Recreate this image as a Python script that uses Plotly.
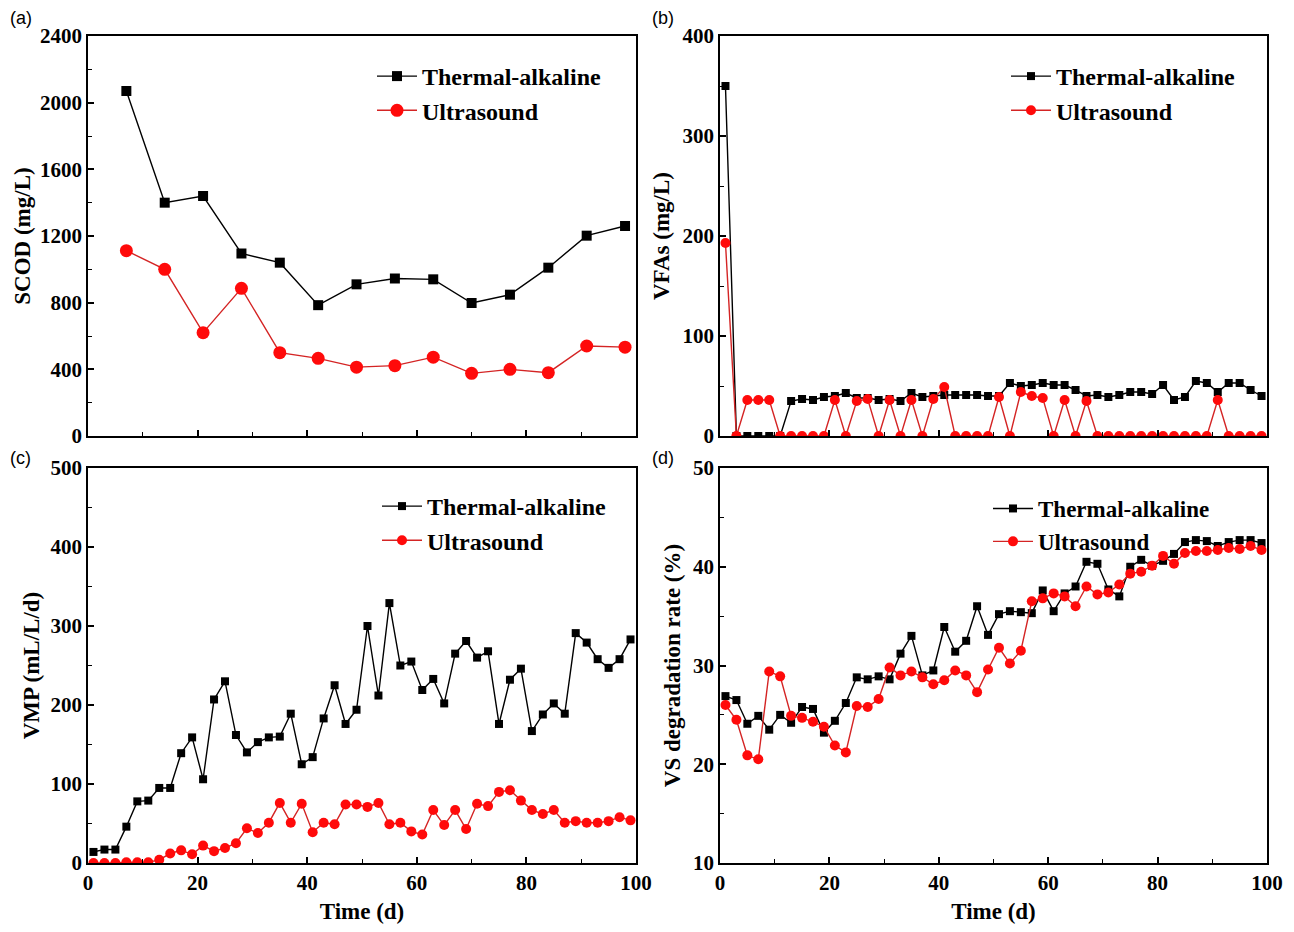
import plotly.graph_objects as go

# ---------------- data ----------------
scod_days = [7, 14, 21, 28, 35, 42, 49, 56, 63, 70, 77, 84, 91, 98]
scod_thermal = [2070, 1400, 1440, 1095, 1040, 785, 910, 945, 940, 798, 848, 1010, 1202, 1260]
scod_ultra = [1112, 1000, 620, 886, 500, 466, 413, 422, 473, 376, 400, 380, 540, 533]

days = list(range(1, 100, 2))
vfa_thermal = [350, 0, 0, 0, 0, 0, 35, 37, 36, 39,
               40, 43, 38, 38, 36, 37, 35, 43, 39, 40,
               41, 41, 41, 41, 40, 40, 53, 50, 51, 53,
               51, 51, 46, 40, 41, 39, 41, 44, 44, 42,
               51, 36, 39, 55, 53, 44, 53, 53, 46, 40]
vfa_ultra = [193, 0, 36, 36, 36, 0, 0, 0, 0, 0,
             36, 0, 35, 37, 0, 36, 0, 36, 0, 37,
             49, 0, 0, 0, 0, 39, 0, 44, 40, 38,
             0, 36, 0, 35, 0, 0, 0, 0, 0, 0,
             0, 0, 0, 0, 0, 36, 0, 0, 0, 0]

vmp_thermal = [14, 17, 17, 46, 78, 79, 95, 95, 139, 159,
               106, 207, 230, 162, 140, 153, 159, 160, 189, 125,
               134, 183, 225, 176, 194, 300, 212, 329, 250, 255,
               219, 233, 202, 265, 281, 260, 268, 176, 232, 246,
               167, 188, 202, 189, 291, 279, 258, 247, 258, 283]
vmp_ultra = [0, 0, 0, 1, 1, 1, 4, 12, 16, 11,
             22, 15, 19, 25, 44, 38, 51, 76, 51, 75,
             39, 51, 49, 74, 74, 71, 76, 49, 51, 40,
             36, 67, 48, 67, 43, 75, 72, 90, 92, 79,
             67, 62, 67, 51, 53, 51, 51, 53, 58, 54]

vs_thermal = [26.9, 26.5, 24.1, 24.9, 23.5, 25.0, 24.2, 25.8, 25.6, 23.2,
              24.4, 26.2, 28.8, 28.6, 28.9, 28.6, 31.2, 33.0, 29.0, 29.5,
              33.9, 31.4, 32.5, 36.0, 33.1, 35.2, 35.5, 35.4, 35.3, 37.6,
              35.5, 37.3, 38.0, 40.5, 40.3, 37.7, 37.0, 40.0, 40.7, 40.1,
              40.6, 41.3, 42.5, 42.7, 42.6, 42.1, 42.5, 42.7, 42.7, 42.4]
vs_ultra = [26.0, 24.5, 20.9, 20.5, 29.4, 28.9, 24.9, 24.7, 24.3, 23.8,
            21.9, 21.2, 25.9, 25.8, 26.6, 29.8, 29.0, 29.4, 28.8, 28.1,
            28.5, 29.5, 29.0, 27.3, 29.6, 31.8, 30.2, 31.5, 36.5, 36.8,
            37.3, 37.0, 36.0, 38.0, 37.2, 37.4, 38.2, 39.3, 39.5, 40.1,
            41.1, 40.3, 41.4, 41.6, 41.6, 41.7, 41.9, 41.8, 42.1, 41.7]

series_names = ["Thermal-alkaline", "Ultrasound"]
panel_labels = ["(a)", "(b)", "(c)", "(d)"]
y_titles = ["SCOD (mg/L)", "VFAs (mg/L)", "VMP (mL/L/d)", "VS degradation rate (%)"]
x_title = "Time (d)"

# ---------------- layout helpers ----------------
W, H = 1278, 916
OFF = 8


def px_x(X):
    return (X - OFF) / W


def px_y(Y):
    return 1 - (Y - OFF) / H


SERIF = "Liberation Serif"
BLACK = "#000000"
RED_LINE = "#d42424"
RED_MK = "#ff0a0a"

fig = go.Figure()

panels = [
    (scod_days, scod_thermal, scod_ultra, "x", "y", "legend"),
    (days, vfa_thermal, vfa_ultra, "x2", "y2", "legend2"),
    (days, vmp_thermal, vmp_ultra, "x3", "y3", "legend3"),
    (days, vs_thermal, vs_ultra, "x4", "y4", "legend4"),
]
for i, (xs, yt, yu, xa, ya, lg) in enumerate(panels):
    sq = 10 if i == 0 else 8
    ci = 13 if i == 0 else 10
    fig.add_trace(go.Scatter(x=xs, y=yt, mode="lines+markers", name=series_names[0],
                             xaxis=xa, yaxis=ya, legend=lg,
                             line=dict(color=BLACK, width=1.4),
                             marker=dict(symbol="square", size=sq, color=BLACK)))
    fig.add_trace(go.Scatter(x=xs, y=yu, mode="lines+markers", name=series_names[1],
                             xaxis=xa, yaxis=ya, legend=lg,
                             line=dict(color=RED_LINE, width=1.4),
                             marker=dict(symbol="circle", size=ci, color=RED_MK)))

tickfont = dict(family=SERIF, size=21, color=BLACK, weight="bold")
titlefont = dict(family=SERIF, size=23, color=BLACK, weight="bold")

xdoms = [(px_x(88), px_x(636)), (px_x(720), px_x(1267))]
ydoms = [(px_y(436), px_y(36)), (px_y(863), px_y(468))]

yranges = [[0, 2400], [0, 400], [0, 500], [10, 50]]
ydticks = [400, 100, 100, 10]
yminor = [200, 50, 50, 5]
ystandoff = [3, 6, 4, 6]

layout = dict(width=W, height=H, margin=dict(l=0, r=0, t=0, b=0, autoexpand=False),
              paper_bgcolor="white", plot_bgcolor="white", showlegend=True)

for i in range(4):
    col = i % 2
    row = i // 2
    sfx = "" if i == 0 else str(i + 1)
    ax_common = dict(showline=True, linewidth=1.5, linecolor=BLACK, mirror=True,
                     showgrid=False, zeroline=False, ticks="inside", ticklen=6,
                     tickwidth=1.5, tickcolor=BLACK, tickfont=tickfont, automargin=False)
    layout["xaxis" + sfx] = dict(ax_common, domain=list(xdoms[col]), range=[0, 100],
                                 dtick=20, tick0=0,
                                 minor=dict(ticks="inside", ticklen=4, dtick=10, tickwidth=1.2,
                                            tickcolor=BLACK),
                                 anchor="y" + sfx,
                                 showticklabels=(row == 1),
                                 title=dict(text=x_title if row == 1 else "", font=titlefont,
                                            standoff=21))
    layout["yaxis" + sfx] = dict(ax_common, domain=list(ydoms[row]), range=yranges[i],
                                 dtick=ydticks[i], tick0=0,
                                 minor=dict(ticks="inside", ticklen=4, dtick=yminor[i],
                                            tickwidth=1.2, tickcolor=BLACK),
                                 anchor="x" + sfx,
                                 title=dict(text=y_titles[i], font=titlefont,
                                            standoff=ystandoff[i]))

legend_pos = [(372, 54, 24), (1006, 54, 24), (377, 484, 24), (988, 487, 23)]
for i, (lx, ly, fs) in enumerate(legend_pos):
    key = "legend" if i == 0 else "legend" + str(i + 1)
    layout[key] = dict(x=px_x(lx), y=px_y(ly), xanchor="left", yanchor="top",
                       bgcolor="rgba(0,0,0,0)", borderwidth=0,
                       font=dict(family=SERIF, size=fs, color=BLACK, weight="bold"),
                       tracegroupgap=0, itemwidth=40)

fig.update_layout(**layout)

label_pos = [(8, 6), (650, 6), (8, 446), (650, 446)]
for txt, (lx, ly) in zip(panel_labels, label_pos):
    fig.add_annotation(text=txt, x=px_x(lx), y=px_y(ly), xref="paper", yref="paper",
                       xanchor="left", yanchor="top", showarrow=False,
                       font=dict(family="Liberation Sans", size=18, color=BLACK))

fig.write_html("out.html")
